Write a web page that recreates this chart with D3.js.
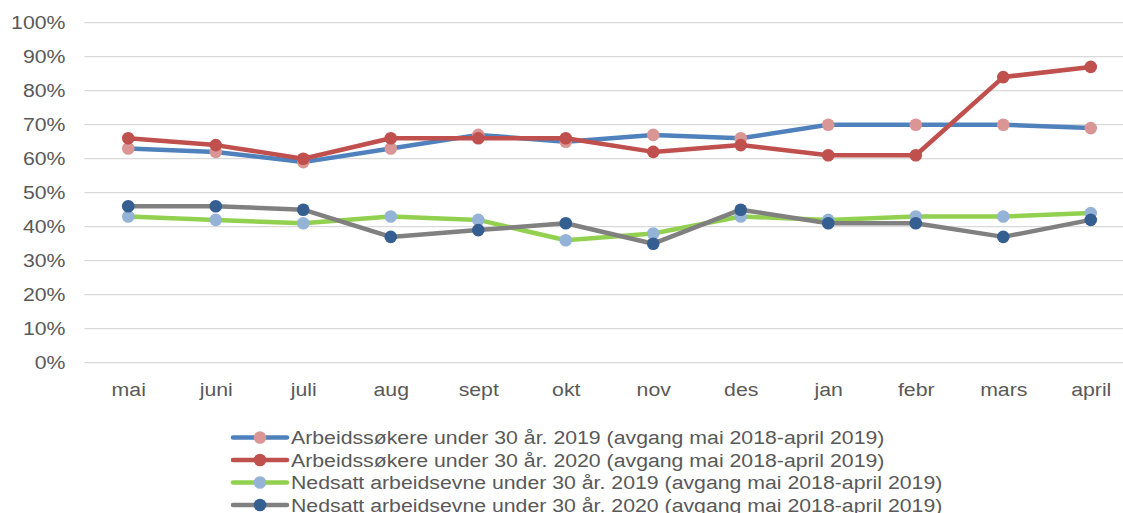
<!DOCTYPE html>
<html><head><meta charset="utf-8">
<script src="https://cdn.jsdelivr.net/npm/d3@7"></script>
<style>body{margin:0;background:#fff}svg{display:block}</style>
</head><body><svg id="c" width="1123" height="513"></svg>
<script>
const months = ["mai","juni","juli","aug","sept","okt","nov","des","jan","febr","mars","april"];
const arb2019 = [63,62,59,63,67,65,67,66,70,70,70,69];
const arb2020 = [66,64,60,66,66,66,62,64,61,61,84,87];
const ned2019 = [43,42,41,43,42,36,38,43,42,43,43,44];
const ned2020 = [46,46,45,37,39,41,35,45,41,41,37,42];
const yTicks = [0,10,20,30,40,50,60,70,80,90,100];
const seriesNames = [
  "Arbeidssøkere under 30 år. 2019 (avgang mai 2018-april 2019)",
  "Arbeidssøkere under 30 år. 2020 (avgang mai 2018-april 2019)",
  "Nedsatt arbeidsevne under 30 år. 2019 (avgang mai 2018-april 2019)",
  "Nedsatt arbeidsevne under 30 år. 2020 (avgang mai 2018-april 2019)"
];
const series = [
  {name: seriesNames[0], values: arb2019, line: "#4F81BD", marker: "#D99694"},
  {name: seriesNames[1], values: arb2020, line: "#C0504D", marker: "#C0504D"},
  {name: seriesNames[2], values: ned2019, line: "#92D050", marker: "#95B3D7"},
  {name: seriesNames[3], values: ned2020, line: "#808080", marker: "#355E91"}
];
const svg = d3.select("#c");
const font = "'Liberation Sans', Arial, sans-serif";
const sx = 1.12;
const pLeft = 84.5, pRight = 1134.5, pTop = 22.7, pBottom = 362.7;
const x = d3.scalePoint().domain(months).range([pLeft, pRight]).padding(0.5);
const y = d3.scaleLinear().domain([0,100]).range([pBottom, pTop]);

// gridlines
svg.append("g").selectAll("line").data(yTicks).join("line")
  .attr("x1", pLeft).attr("x2", 1123)
  .attr("y1", d => y(d)).attr("y2", d => y(d))
  .attr("stroke", "#D9D9D9").attr("stroke-width", 1.3);

// y axis
const yAxis = svg.append("g").attr("transform", `translate(${pLeft},0)`)
  .call(d3.axisLeft(y).tickValues(yTicks).tickFormat(d => d + "%").tickSize(0).tickPadding(17));
yAxis.select(".domain").remove();
yAxis.selectAll("text").attr("font-family", font).attr("font-size", 19).attr("fill", "#595959")
  .attr("transform", `scale(${sx},1)`);

// x axis
const xAxis = svg.append("g").attr("transform", `translate(0,${pBottom})`)
  .call(d3.axisBottom(x).tickSize(0).tickPadding(20));
xAxis.select(".domain").remove();
xAxis.selectAll("text").attr("font-family", font).attr("font-size", 19).attr("fill", "#595959")
  .attr("transform", `scale(${sx},1)`);

const line = d3.line().x((d,i) => x(months[i])).y(d => y(d));
series.forEach(s => {
  const g = svg.append("g");
  g.append("path").attr("d", line(s.values)).attr("fill", "none")
    .attr("stroke", s.line).attr("stroke-width", 4.5).attr("stroke-linejoin", "round");
  g.selectAll("circle").data(s.values).join("circle")
    .attr("cx", (d,i) => x(months[i])).attr("cy", d => y(d)).attr("r", 6.3)
    .attr("fill", s.marker);
});

// legend
const lg = svg.append("g");
series.forEach((s, i) => {
  const cy = 437.5 + i * 22.5;
  lg.append("line").attr("x1", 233).attr("x2", 287).attr("y1", cy).attr("y2", cy)
    .attr("stroke", s.line).attr("stroke-width", 4.5).attr("stroke-linecap", "round");
  lg.append("circle").attr("cx", 260).attr("cy", cy).attr("r", 6.3).attr("fill", s.marker);
  lg.append("text").attr("transform", `translate(291,${cy}) scale(${sx},1)`).attr("dy", "0.35em")
    .attr("font-family", font).attr("font-size", 19).attr("fill", "#595959").text(s.name);
});
</script></body></html>
